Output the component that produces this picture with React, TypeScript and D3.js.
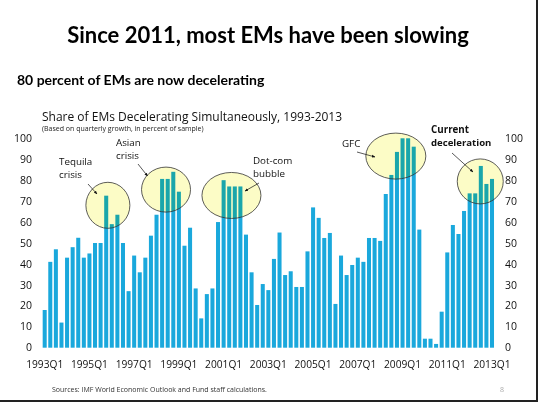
import React from "react";
import * as d3 from "d3";

const years = d3.range(1993, 2014);
const quarters: string[] = [];
years.forEach((y) => {
  for (let q = 1; q <= 4; q++) {
    if (y === 2013 && q > 1) break;
    quarters.push(`${y}Q${q}`);
  }
});

const shareDecelerating = [
  18, 41, 47, 12,
  43, 48, 52.5, 43,
  45, 50, 50, 72.6,
  59, 63.5, 50, 27,
  44, 36, 43, 53.5,
  63.5, 80.6, 80.6, 84,
  74.5, 48.7, 57.3, 28.3,
  14, 25.6, 28.3, 60,
  80, 77, 77, 77,
  54, 36, 20.4, 30.4,
  27.5, 42.4, 55, 34.7,
  36.5, 29, 29, 46,
  67, 62, 52.4, 54.8,
  20.9, 44, 34.7, 39.5,
  43, 41, 52.4, 52.4,
  51, 73.4, 82.5, 93.5,
  100, 100, 96, 56.4,
  4.3, 4.3, 1.8, 17.2,
  45.5, 58.6, 54.3, 65.3,
  73.7, 73.7, 86.8, 78.2,
  80.6,
];

const xTickLabels = ["1993Q1", "1995Q1", "1997Q1", "1999Q1", "2001Q1", "2003Q1", "2005Q1", "2007Q1", "2009Q1", "2011Q1", "2013Q1"];
const yTicks = [0, 10, 20, 30, 40, 50, 60, 70, 80, 90, 100];

// annotation circles: centre as fractional quarter index and value
const highlightNames = ["Tequila", "Asian", "Dot-com", "GFC", "Current"];
const highlightIndex = [11.3, 21.7, 33.4, 62.8, 77.9];
const highlightValue = [68, 75.5, 72.7, 91.5, 79.4];
const highlightRx = [22, 24.5, 29.5, 30, 23];
const highlightRy = [23, 22.5, 23, 23, 22.5];

const W = 555;
const H = 411;
const FONT = "'Open Sans', 'Noto Sans', sans-serif";
const TITLE_FONT = "Lato, 'Open Sans', sans-serif";

export default function App() {
  const x = d3.scaleBand<string>().domain(quarters).range([41.9, 494.8]).paddingInner(0.28).paddingOuter(0.14);
  const y = d3.scaleLinear().domain([0, 100]).range([347.7, 138.3]);
  const xAt = (fi: number) => (x.range()[0] as number) + x.step() * (fi + 0.5);

  const arrows = [
    [88, 184, 97, 194],
    [138, 164, 147.5, 176],
    [259, 183, 245, 191],
    [357, 152, 375, 157],
    [452, 153, 473, 172],
  ];

  return (
    <svg width={W} height={H} style={{ position: "absolute", left: 0, top: 0, background: "#fff" }}>
      <defs>
        <marker id="ah" viewBox="0 0 10 10" refX="9" refY="5" markerWidth="5" markerHeight="5" orient="auto">
          <path d="M0,1 L10,5 L0,9 z" fill="#111" />
        </marker>
      </defs>
      <rect x={0} y={0} width={W} height={H} fill="#fff" />
      <text x={268} y={43} textAnchor="middle" fontFamily={TITLE_FONT} fontWeight="bold" fontSize={22} fill="#000">
        Since 2011, most EMs have been slowing
      </text>
      <text x={17} y={85} fontFamily={TITLE_FONT} fontWeight="bold" fontSize={14} fill="#000">
        80 percent of EMs are now decelerating
      </text>
      <text x={42} y={120.5} fontFamily={FONT} fontSize={12} fill="#111">
        Share of EMs Decelerating Simultaneously, 1993-2013
      </text>
      <text x={42} y={130.5} fontFamily={FONT} fontSize={7} fill="#222">
        (Based on quarterly growth, in percent of sample)
      </text>

      <g>
        {shareDecelerating.map((v, i) => (
          <rect key={i} x={x(quarters[i])} y={y(v)} width={x.bandwidth()} height={y(0) - y(v)} fill="#1aa8dc" />
        ))}
      </g>

      <g>
        {highlightNames.map((n, i) => (
          <ellipse key={n} cx={xAt(highlightIndex[i])} cy={y(highlightValue[i])} rx={highlightRx[i]} ry={highlightRy[i]}
            fill="#fcfcc6" style={{ mixBlendMode: "multiply" }} />
        ))}
        {highlightNames.map((n, i) => (
          <ellipse key={n + "s"} cx={xAt(highlightIndex[i])} cy={y(highlightValue[i])} rx={highlightRx[i]} ry={highlightRy[i]}
            fill="none" stroke="#333" strokeWidth={0.8} />
        ))}
      </g>

      <g>
        {arrows.map((a, i) => (
          <line key={i} x1={a[0]} y1={a[1]} x2={a[2]} y2={a[3]} stroke="#111" strokeWidth={0.7} markerEnd="url(#ah)" />
        ))}
      </g>

      <g fontFamily={FONT} fontSize={9.8} fill="#111">
        <text x={59} y={164.5}>Tequila</text>
        <text x={59} y={177.5}>crisis</text>
        <text x={116} y={145.5}>Asian</text>
        <text x={116} y={158.5}>crisis</text>
        <text x={253} y={163.5}>Dot-com</text>
        <text x={253} y={176.5}>bubble</text>
        <text x={342} y={146.5}>GFC</text>
        <text x={431} y={133} fontWeight="bold">Current</text>
        <text x={431} y={145.5} fontWeight="bold" fontSize={9.6}>deceleration</text>
      </g>

      <g fontFamily={FONT} fontSize={10.5} fill="#111">
        {yTicks.map((t) => (
          <text key={"l" + t} x={32} y={y(t)} dy="0.35em" textAnchor="end">{t}</text>
        ))}
        {yTicks.map((t) => (
          <text key={"r" + t} x={505} y={y(t)} dy="0.35em" textAnchor="start">{t}</text>
        ))}
        {xTickLabels.map((l) => (
          <text key={l} x={(x(l) as number) + x.bandwidth() / 2} y={368} textAnchor="middle" fontSize={10.2}>{l}</text>
        ))}
      </g>

      <text x={52} y={392} fontFamily={FONT} fontSize={7} fill="#333">
        Sources: IMF World Economic Outlook and Fund staff calculations.
      </text>
      <text x={500} y={392} fontFamily={FONT} fontSize={7} fill="#aaa">8</text>

      <line x1={537} y1={0} x2={537} y2={402} stroke="#222" strokeWidth={2} />
      <line x1={0} y1={401} x2={538} y2={401} stroke="#222" strokeWidth={2} />
    </svg>
  );
}
